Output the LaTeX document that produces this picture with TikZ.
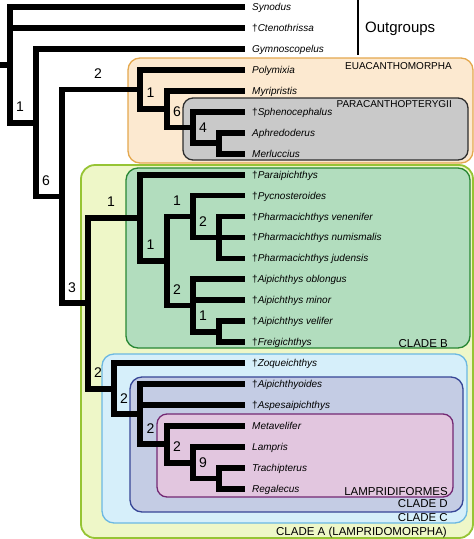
\documentclass[tikz,border=0pt]{standalone}
\usepackage{fontspec}
\setmainfont{Liberation Sans}

\definecolor{euafill}{RGB}{252,233,208}
\definecolor{euadraw}{RGB}{228,168,78}
\definecolor{parfill}{RGB}{201,201,201}
\definecolor{pardraw}{RGB}{45,45,45}
\definecolor{clafill}{RGB}{238,247,200}
\definecolor{cladraw}{RGB}{150,196,52}
\definecolor{clbfill}{RGB}{178,221,190}
\definecolor{clbdraw}{RGB}{40,135,52}
\definecolor{clcfill}{RGB}{214,239,250}
\definecolor{clcdraw}{RGB}{108,184,226}
\definecolor{cldfill}{RGB}{196,204,228}
\definecolor{clddraw}{RGB}{55,70,150}
\definecolor{lamfill}{RGB}{226,198,223}
\definecolor{lamdraw}{RGB}{115,40,115}

\newcommand{\extinct}{\textup{\textdagger}}

\tikzset{
  taxon/.style={anchor=west, inner xsep=7pt, inner ysep=0pt, text height=7pt, text depth=0pt,
    font=\fontsize{10}{12}\selectfont\itshape},
  support/.style={pos=0.75, xshift=-3pt, yshift=16pt, inner sep=0pt, font=\fontsize{14}{16}\selectfont},
  cladename/.style={anchor=east, inner sep=0pt, text height=8pt, text depth=0pt,
    font=\fontsize{11.5}{13}\selectfont},
  groupname/.style={cladename, text height=7pt, font=\fontsize{10}{12}\selectfont},
  cladebox/.style={rounded corners=12pt, line width=1.3pt},
}

\begin{document}
\begin{tikzpicture}[x=1pt, y=-1pt]
    \useasboundingbox (0,0) rectangle (474,539);

    % clade boxes
    \draw[cladebox, fill=euafill, draw=euadraw] (128,58) rectangle (473,163);
    \draw[cladebox, fill=parfill, draw=pardraw, rounded corners=10pt] (183,98) rectangle (468,160);
    \draw[cladebox, fill=clafill, draw=cladraw, line width=1.8pt, rounded corners=14pt] (81,165) rectangle (473,538);
    \draw[cladebox, fill=clbfill, draw=clbdraw] (126,168) rectangle (470,348);
    \draw[cladebox, fill=clcfill, draw=clcdraw] (102,354) rectangle (467,523);
    \draw[cladebox, fill=cldfill, draw=clddraw] (130,377) rectangle (463,512);
    \draw[cladebox, fill=lamfill, draw=lamdraw, rounded corners=10pt] (157,414) rectangle (453,497);

    \node[taxon] (t1)  at (245,7)     {Synodus};
    \node[taxon] (t2)  at (245,27.9)  {\extinct Ctenothrissa};
    \node[taxon] (t3)  at (245,48.9)  {Gymnoscopelus};
    \node[taxon] (t4)  at (245,69.8)  {Polymixia};
    \node[taxon] (t5)  at (245,90.8)  {Myripristis};
    \node[taxon] (t6)  at (245,111.7) {\extinct Sphenocephalus};
    \node[taxon] (t7)  at (245,132.7) {Aphredoderus};
    \node[taxon] (t8)  at (245,153.6) {Merluccius};
    \node[taxon] (t9)  at (245,174.6) {\extinct Paraipichthys};
    \node[taxon] (t10) at (245,195.5) {\extinct Pycnosteroides};
    \node[taxon] (t11) at (245,216.5) {\extinct Pharmacichthys venenifer};
    \node[taxon] (t12) at (245,237.4) {\extinct Pharmacichthys numismalis};
    \node[taxon] (t13) at (245,258.4) {\extinct Pharmacichthys judensis};
    \node[taxon] (t14) at (245,279.3) {\extinct Aipichthys oblongus};
    \node[taxon] (t15) at (245,300.3) {\extinct Aipichthys minor};
    \node[taxon] (t16) at (245,321.2) {\extinct Aipichthys velifer};
    \node[taxon] (t17) at (245,342.2) {\extinct Freigichthys};
    \node[taxon] (t18) at (245,363.1) {\extinct Zoqueichthys};
    \node[taxon] (t19) at (245,384.1) {\extinct Aipichthyoides};
    \node[taxon] (t20) at (245,405)   {\extinct Aspesaipichthys};
    \node[taxon] (t21) at (245,426)   {Metavelifer};
    \node[taxon] (t22) at (245,446.9) {Lampris};
    \node[taxon] (t23) at (245,467.9) {Trachipterus};
    \node[taxon] (t24) at (245,488.8) {Regalecus};

    \coordinate (base) at (0,64.8);
    \coordinate (n0)  at (10,64.8);
    \coordinate (n1)  at (36,122.6);
    \coordinate (n2)  at (62,196.4);
    \coordinate (n3)  at (140,89.5);
    \coordinate (n4)  at (167,109.1);
    \coordinate (n5)  at (193,127.5);
    \coordinate (n6)  at (219,143.2);
    \coordinate (n7)  at (88,303.2);
    \coordinate (n8)  at (140,217.8);
    \coordinate (n9)  at (167,261);
    \coordinate (n10) at (193,216.5);
    \coordinate (n11) at (219,237.4);
    \coordinate (n12) at (193,305.5);
    \coordinate (n13) at (219,331.7);
    \coordinate (n14) at (114,388.7);
    \coordinate (n15) at (140,414.2);
    \coordinate (n16) at (167,444.3);
    \coordinate (n17) at (193,462.7);
    \coordinate (n18) at (219,478.4);

    \begin{scope}[every path/.style={line width=5.8pt, line join=miter}]
       \draw (base) -- (n0);
       \draw (n0) |- (t1.west);
       \draw (n0) |- (t2.west);
       \draw (n0) |- (n1) node[support] (l1) {1};
       \draw (n1) |- (t3.west);
       \draw (n1) |- (n2) node[support] (l2) {6};
       \draw (n2) |- (n3) node[support] (l3) {2};
       \draw (n2) |- (n7) node[support] (l7) {3};
       \draw (n3) |- (t4.west);
       \draw (n3) |- (n4) node[support] (l4) {1};
       \draw (n4) |- (t5.west);
       \draw (n4) |- (n5) node[support] (l5) {6};
       \draw (n5) |- (t6.west);
       \draw (n5) |- (n6) node[support] (l6) {4};
       \draw (n6) |- (t7.west);
       \draw (n6) |- (t8.west);
       \draw (n7) |- (n8) node[support] (l8) {1};
       \draw (n7) |- (n14) node[support] (l14) {2};
       \draw (n8) |- (t9.west);
       \draw (n8) |- (n9) node[support] (l9) {1};
       \draw (n9) |- (n10) node[support] (l10) {1};
       \draw (n9) |- (n12) node[support] (l12) {2};
       \draw (n10) |- (t10.west);
       \draw (n10) |- (n11) node[support] (l11) {2};
       \draw (n11) |- (t11.west);
       \draw (n11) |- (t12.west);
       \draw (n11) |- (t13.west);
       \draw (n12) |- (t14.west);
       \draw (n12) |- (t15.west);
       \draw (n12) |- (n13) node[support] (l13) {1};
       \draw (n13) |- (t16.west);
       \draw (n13) |- (t17.west);
       \draw (n14) |- (t18.west);
       \draw (n14) |- (n15) node[support] (l15) {2};
       \draw (n15) |- (t19.west);
       \draw (n15) |- (t20.west);
       \draw (n15) |- (n16) node[support] (l16) {2};
       \draw (n16) |- (t21.west);
       \draw (n16) |- (n17) node[support] (l17) {2};
       \draw (n17) |- (t22.west);
       \draw (n17) |- (n18) node[support] (l18) {9};
       \draw (n18) |- (t23.west);
       \draw (n18) |- (t24.west);
    \end{scope}

    % outgroup bracket
    \coordinate (ogtop) at (358,0);
    \coordinate (ogbot) at (358,55);
    \draw[line width=2.6pt] (ogtop) -- (ogbot);
    \node[anchor=west, inner sep=0pt, text height=10.7pt, text depth=0pt,
          font=\fontsize{15}{17}\selectfont] (og) at (365,27) {Outgroups};

    \node[groupname] (eua) at (452,66)  {EUACANTHOMORPHA};
    \node[groupname] (par) at (452,104) {PARACANTHOPTERYGII};
    \node[cladename] (clb) at (448,343) {CLADE B};
    \node[cladename] (lam) at (448,491) {LAMPRIDIFORMES};
    \node[cladename] (cld) at (448,503) {CLADE D};
    \node[cladename] (clc) at (448,517) {CLADE C};
    \node[cladename] (cla) at (447,531) {CLADE A (LAMPRIDOMORPHA)};

\end{tikzpicture}
\end{document}
